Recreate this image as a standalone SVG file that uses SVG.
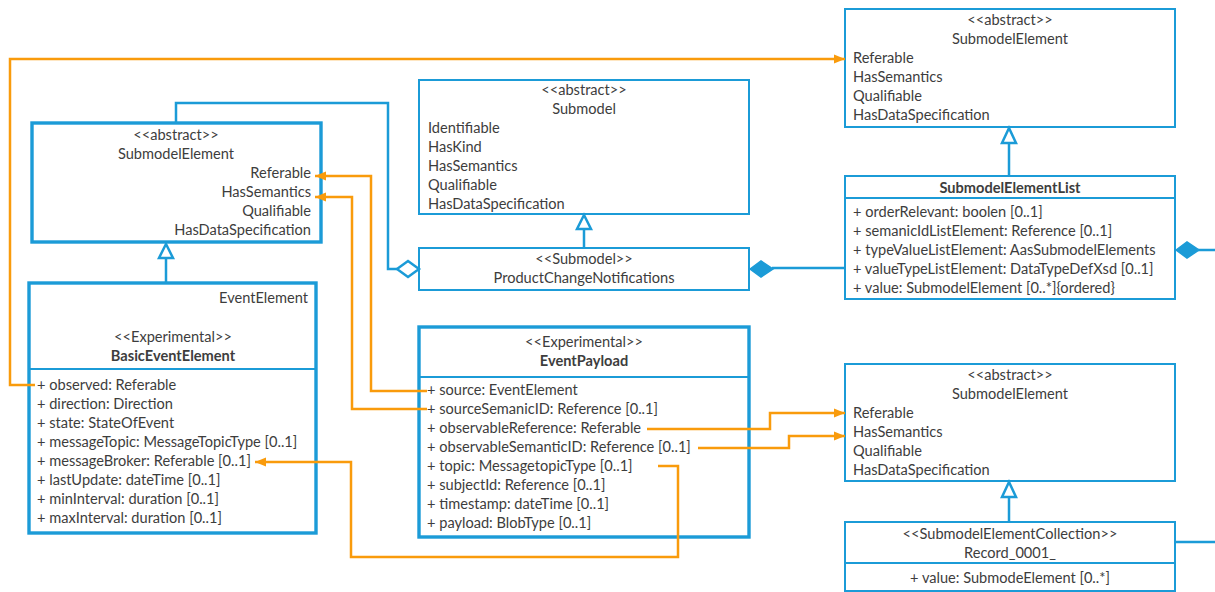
<svg xmlns="http://www.w3.org/2000/svg" width="1215" height="592" viewBox="0 0 1215 592">
  <style>
    .t{font-family:Lato,"Liberation Sans",sans-serif;font-size:14.6px;fill:#3d3d3d}
    .b{font-weight:bold}
    .c{text-anchor:middle}
    .r{text-anchor:end}
    .box{fill:#fff;stroke:#1b9bd7;stroke-width:2}
    .thick{stroke-width:3.4}
    .div{stroke:#1b9bd7;stroke-width:2}
    .blue{fill:none;stroke:#1b9bd7;stroke-width:2.5}
    .gen{fill:#fff;stroke:#1b9bd7;stroke-width:2.5}
    .comp{fill:#1b9bd7;stroke:#1b9bd7;stroke-width:1.5}
    .agg{fill:#fff;stroke:#1b9bd7;stroke-width:2.5}
    .or{fill:none;stroke:#f99b0c;stroke-width:2.5}
  </style>
  <defs>
    <marker id="oa" markerWidth="12" markerHeight="12" refX="11" refY="6" orient="auto" markerUnits="userSpaceOnUse">
      <path d="M0,1.5 L11,6 L0,10.5 z" fill="#f99b0c"/>
    </marker>
  </defs>
  <rect width="1215" height="592" fill="#fff"/>

  <!-- SubmodelElement (left) -->
  <g id="sme-left">
    <rect class="box thick" x="32" y="123" width="289" height="119"/>
    <text class="t c" x="176" y="140">&lt;&lt;abstract&gt;&gt;</text>
    <text class="t c" x="176" y="159">SubmodelElement</text>
    <text class="t r" x="311" y="178">Referable</text>
    <text class="t r" x="311" y="197">HasSemantics</text>
    <text class="t r" x="311" y="216">Qualifiable</text>
    <text class="t r" x="311" y="235">HasDataSpecification</text>
  </g>

  <!-- BasicEventElement -->
  <g id="basic-event-element">
    <rect class="box thick" x="29" y="283" width="287" height="250"/>
    <line class="div thick" x1="29" y1="369" x2="316" y2="369"/>
    <text class="t r" x="308" y="303">EventElement</text>
    <text class="t c" x="173" y="342">&lt;&lt;Experimental&gt;&gt;</text>
    <text class="t c b" x="173" y="361">BasicEventElement</text>
    <text class="t" x="37" y="390">+ observed: Referable</text>
    <text class="t" x="37" y="409">+ direction: Direction</text>
    <text class="t" x="37" y="428">+ state: StateOfEvent</text>
    <text class="t" x="37" y="447">+ messageTopic: MessageTopicType [0..1]</text>
    <text class="t" x="37" y="466">+ messageBroker: Referable [0..1]</text>
    <text class="t" x="37" y="485">+ lastUpdate: dateTime [0..1]</text>
    <text class="t" x="37" y="504">+ minInterval: duration [0..1]</text>
    <text class="t" x="37" y="523">+ maxInterval: duration [0..1]</text>
  </g>

  <!-- Submodel -->
  <g id="submodel">
    <rect class="box" x="419" y="80" width="330" height="134"/>
    <text class="t c" x="584" y="95">&lt;&lt;abstract&gt;&gt;</text>
    <text class="t c" x="584" y="114">Submodel</text>
    <text class="t" x="428" y="133">Identifiable</text>
    <text class="t" x="428" y="152">HasKind</text>
    <text class="t" x="428" y="171">HasSemantics</text>
    <text class="t" x="428" y="190">Qualifiable</text>
    <text class="t" x="428" y="209">HasDataSpecification</text>
  </g>

  <!-- ProductChangeNotifications -->
  <g id="product-change-notifications">
    <rect class="box" x="419" y="248" width="330" height="42"/>
    <text class="t c" x="584" y="264">&lt;&lt;Submodel&gt;&gt;</text>
    <text class="t c" x="584" y="283">ProductChangeNotifications</text>
  </g>

  <!-- EventPayload -->
  <g id="event-payload">
    <rect class="box thick" x="419" y="327" width="330" height="210"/>
    <line class="div thick" x1="419" y1="377" x2="749" y2="377"/>
    <text class="t c" x="584" y="347">&lt;&lt;Experimental&gt;&gt;</text>
    <text class="t c b" x="584" y="366">EventPayload</text>
    <text class="t" x="427" y="395">+ source: EventElement</text>
    <text class="t" x="427" y="414">+ sourceSemanicID: Reference [0..1]</text>
    <text class="t" x="427" y="433">+ observableReference: Referable</text>
    <text class="t" x="427" y="452">+ observableSemanticID: Reference [0..1]</text>
    <text class="t" x="427" y="471">+ topic: MessagetopicType [0..1]</text>
    <text class="t" x="427" y="490">+ subjectId: Reference [0..1]</text>
    <text class="t" x="427" y="509">+ timestamp: dateTime [0..1]</text>
    <text class="t" x="427" y="528">+ payload: BlobType [0..1]</text>
  </g>

  <!-- SubmodelElement (top right) -->
  <g id="sme-top-right">
    <rect class="box" x="845" y="9" width="330" height="118"/>
    <text class="t c" x="1010" y="25">&lt;&lt;abstract&gt;&gt;</text>
    <text class="t c" x="1010" y="44">SubmodelElement</text>
    <text class="t" x="853" y="63">Referable</text>
    <text class="t" x="853" y="82">HasSemantics</text>
    <text class="t" x="853" y="101">Qualifiable</text>
    <text class="t" x="853" y="120">HasDataSpecification</text>
  </g>

  <!-- SubmodelElementList -->
  <g id="submodel-element-list">
    <rect class="box" x="845" y="176" width="330" height="123"/>
    <line class="div" x1="845" y1="198" x2="1175" y2="198"/>
    <text class="t c b" x="1010" y="193">SubmodelElementList</text>
    <text class="t" x="853" y="217">+ orderRelevant: boolen [0..1]</text>
    <text class="t" x="853" y="236">+ semanicIdListElement: Reference [0..1]</text>
    <text class="t" x="853" y="255">+ typeValueListElement: AasSubmodelElements</text>
    <text class="t" x="853" y="274">+ valueTypeListElement: DataTypeDefXsd [0..1]</text>
    <text class="t" x="853" y="293">+ value: SubmodelElement [0..*]{ordered}</text>
  </g>

  <!-- SubmodelElement (bottom right) -->
  <g id="sme-bottom-right">
    <rect class="box" x="845" y="364" width="330" height="117"/>
    <text class="t c" x="1010" y="380">&lt;&lt;abstract&gt;&gt;</text>
    <text class="t c" x="1010" y="399">SubmodelElement</text>
    <text class="t" x="853" y="418">Referable</text>
    <text class="t" x="853" y="437">HasSemantics</text>
    <text class="t" x="853" y="456">Qualifiable</text>
    <text class="t" x="853" y="475">HasDataSpecification</text>
  </g>

  <!-- Record_0001_ -->
  <g id="record-0001">
    <rect class="box" x="845" y="522" width="330" height="69"/>
    <line class="div" x1="845" y1="563" x2="1175" y2="563"/>
    <text class="t c" x="1010" y="539">&lt;&lt;SubmodelElementCollection&gt;&gt;</text>
    <text class="t c" x="1010" y="558">Record_0001_</text>
    <text class="t c" x="1010" y="583">+ value: SubmodeElement [0..*]</text>
  </g>

  <!-- connectors, drawn above the boxes -->
  <g id="connectors">
    <!-- aggregation from SubmodelElement to ProductChangeNotifications -->
    <path class="blue" d="M176,122 V103 H388 V269 H397"/>
    <polygon class="agg" points="397,269 408,261 419,269 408,277"/>
    <!-- generalizations -->
    <line class="blue" x1="166" y1="258" x2="166" y2="282"/>
    <polygon class="gen" points="166,244 159,258 173,258"/>
    <line class="blue" x1="584" y1="229" x2="584" y2="248"/>
    <polygon class="gen" points="584,215 577,229 591,229"/>
    <line class="blue" x1="1009" y1="143" x2="1009" y2="176"/>
    <polygon class="gen" points="1009,128 1002,143 1016,143"/>
    <line class="blue" x1="1009" y1="497" x2="1009" y2="522"/>
    <polygon class="gen" points="1009,482 1002,497 1016,497"/>
    <!-- compositions -->
    <line class="blue" x1="772" y1="268" x2="845" y2="268"/>
    <polygon class="comp" points="750,269 761,261 773,269 761,277"/>
    <line class="blue" x1="1198" y1="250" x2="1215" y2="250"/>
    <polygon class="comp" points="1176,250 1187,242 1199,250 1187,258"/>
    <line class="blue" x1="1175" y1="542" x2="1215" y2="542"/>
    <!-- references -->
    <path class="or" d="M35,385 H10 V59 H845" marker-end="url(#oa)"/>
    <path class="or" d="M427,391 H371 V176 H315" marker-end="url(#oa)"/>
    <path class="or" d="M427,409 H352 V197 H315" marker-end="url(#oa)"/>
    <path class="or" d="M658,466 H678 V557 H351 V462 H255" marker-end="url(#oa)"/>
    <path class="or" d="M647,429 H770 V413 H845" marker-end="url(#oa)"/>
    <path class="or" d="M698,448 H789 V436 H845" marker-end="url(#oa)"/>
  </g>
</svg>
